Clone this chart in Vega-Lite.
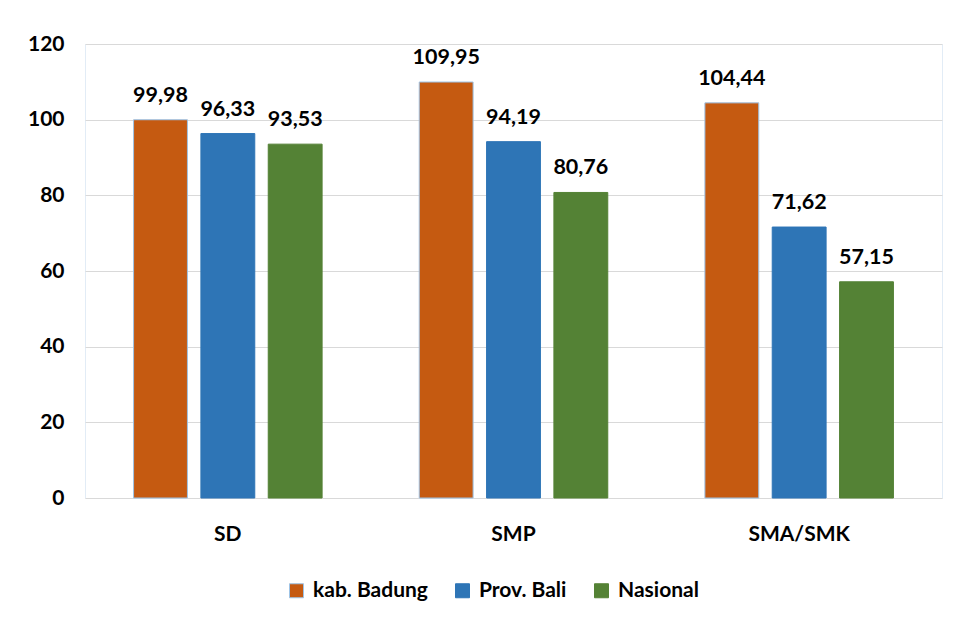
{
  "$schema": "https://vega.github.io/schema/vega-lite/v6.json",
  "autosize": {"type": "none"},
  "width": 857,
  "height": 454,
  "padding": {"left": 85, "top": 44, "right": 15, "bottom": 124},
  "background": "white",
  "config": {
    "locale": {"number": {"decimal": ",", "thousands": ".", "grouping": [3], "currency": ["", ""]}},
    "font": "Lato",
    "view": {"stroke": "#E2ECF6", "strokeWidth": 1},
    "axis": {"labelFont": "Lato", "labelFontWeight": "bold", "labelColor": "#000000", "labelFontSize": 21}
  },
  "data": {
    "values": [
      {"jenjang": "SD", "wilayah": "kab. Badung", "nilai": 99.98},
      {"jenjang": "SD", "wilayah": "Prov. Bali", "nilai": 96.33},
      {"jenjang": "SD", "wilayah": "Nasional", "nilai": 93.53},
      {"jenjang": "SMP", "wilayah": "kab. Badung", "nilai": 109.95},
      {"jenjang": "SMP", "wilayah": "Prov. Bali", "nilai": 94.19},
      {"jenjang": "SMP", "wilayah": "Nasional", "nilai": 80.76},
      {"jenjang": "SMA/SMK", "wilayah": "kab. Badung", "nilai": 104.44},
      {"jenjang": "SMA/SMK", "wilayah": "Prov. Bali", "nilai": 71.62},
      {"jenjang": "SMA/SMK", "wilayah": "Nasional", "nilai": 57.15}
    ]
  },
  "encoding": {
    "x": {
      "field": "jenjang",
      "type": "nominal",
      "sort": ["SD", "SMP", "SMA/SMK"],
      "scale": {"paddingInner": 0.34, "paddingOuter": 0.17},
      "axis": {"title": null, "labelAngle": 0, "ticks": false, "domain": false, "labelPadding": 25}
    },
    "xOffset": {
      "field": "wilayah",
      "type": "nominal",
      "sort": ["kab. Badung", "Prov. Bali", "Nasional"],
      "scale": {"paddingInner": 0.2, "paddingOuter": 0}
    },
    "y": {
      "field": "nilai",
      "type": "quantitative",
      "scale": {"domain": [0, 120], "nice": false},
      "axis": {
        "title": null,
        "values": [0, 20, 40, 60, 80, 100, 120],
        "ticks": false,
        "domain": false,
        "labelPadding": 21,
        "gridColor": "#D9D9D9",
        "gridWidth": 1.2
      }
    }
  },
  "layer": [
    {
      "mark": {"type": "bar", "strokeWidth": 1},
      "encoding": {
        "fill": {
          "field": "wilayah",
          "type": "nominal",
          "sort": ["kab. Badung", "Prov. Bali", "Nasional"],
          "scale": {"domain": ["kab. Badung", "Prov. Bali", "Nasional"], "range": ["#C55A11", "#2E75B6", "#548235"]},
          "legend": {
            "title": null,
            "orient": "none",
            "direction": "horizontal",
            "legendX": 201,
            "legendY": 536,
            "symbolType": "square",
            "symbolSize": 196,
            "symbolStrokeWidth": 1,
            "symbolOpacity": 1,
            "labelFont": "Lato",
            "labelFontWeight": "bold",
            "labelFontSize": 21,
            "labelColor": "#000000",
            "labelOffset": 6,
            "columnPadding": 24
          }
        },
        "stroke": {
          "field": "wilayah",
          "type": "nominal",
          "sort": ["kab. Badung", "Prov. Bali", "Nasional"],
          "scale": {"domain": ["kab. Badung", "Prov. Bali", "Nasional"], "range": ["#9DC3E6", "#2E75B6", "#548235"]},
          "legend": null
        }
      }
    },
    {
      "mark": {"type": "text", "baseline": "alphabetic", "dy": -18, "fontWeight": "bold", "fontSize": 21.5, "font": "Lato", "color": "#000000"},
      "encoding": {
        "text": {"field": "nilai", "type": "quantitative", "format": ".2f"}
      }
    }
  ]
}
